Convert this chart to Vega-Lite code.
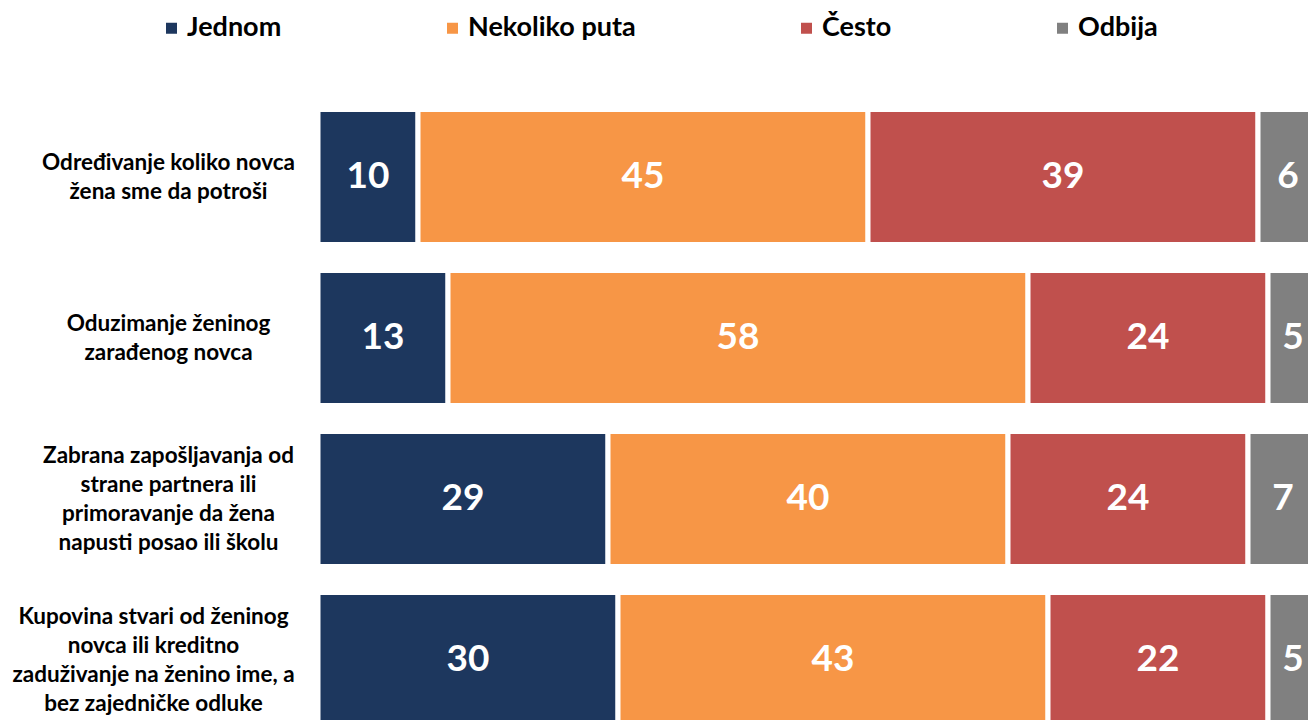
{
  "$schema": "https://vega.github.io/schema/vega-lite/v6.json",
  "autosize": {"type": "none"},
  "padding": {"left": 318, "top": 96.5, "right": 0, "bottom": 0},
  "width": 990,
  "height": 623.5,
  "background": "white",
  "config": {
    "view": {"stroke": null},
    "font": "Lato"
  },
  "data": {
    "values": [
      {"item": "Određivanje koliko novca|žena sme da potroši", "odgovor": "Jednom", "procenat": 10},
      {"item": "Određivanje koliko novca|žena sme da potroši", "odgovor": "Nekoliko puta", "procenat": 45},
      {"item": "Određivanje koliko novca|žena sme da potroši", "odgovor": "Često", "procenat": 39},
      {"item": "Određivanje koliko novca|žena sme da potroši", "odgovor": "Odbija", "procenat": 6},
      {"item": "Oduzimanje ženinog|zarađenog novca", "odgovor": "Jednom", "procenat": 13},
      {"item": "Oduzimanje ženinog|zarađenog novca", "odgovor": "Nekoliko puta", "procenat": 58},
      {"item": "Oduzimanje ženinog|zarađenog novca", "odgovor": "Često", "procenat": 24},
      {"item": "Oduzimanje ženinog|zarađenog novca", "odgovor": "Odbija", "procenat": 5},
      {"item": "Zabrana zapošljavanja od|strane partnera ili|primoravanje da žena|napusti posao ili školu", "odgovor": "Jednom", "procenat": 29},
      {"item": "Zabrana zapošljavanja od|strane partnera ili|primoravanje da žena|napusti posao ili školu", "odgovor": "Nekoliko puta", "procenat": 40},
      {"item": "Zabrana zapošljavanja od|strane partnera ili|primoravanje da žena|napusti posao ili školu", "odgovor": "Često", "procenat": 24},
      {"item": "Zabrana zapošljavanja od|strane partnera ili|primoravanje da žena|napusti posao ili školu", "odgovor": "Odbija", "procenat": 7},
      {"item": "Kupovina stvari od  ženinog|novca ili kreditno|zaduživanje na ženino ime, a|bez zajedničke odluke", "odgovor": "Jednom", "procenat": 30},
      {"item": "Kupovina stvari od  ženinog|novca ili kreditno|zaduživanje na ženino ime, a|bez zajedničke odluke", "odgovor": "Nekoliko puta", "procenat": 43},
      {"item": "Kupovina stvari od  ženinog|novca ili kreditno|zaduživanje na ženino ime, a|bez zajedničke odluke", "odgovor": "Često", "procenat": 22},
      {"item": "Kupovina stvari od  ženinog|novca ili kreditno|zaduživanje na ženino ime, a|bez zajedničke odluke", "odgovor": "Odbija", "procenat": 5}
    ]
  },
  "transform": [
    {"calculate": "indexof(['Jednom', 'Nekoliko puta', 'Često', 'Odbija'], datum.odgovor)", "as": "redosled"}
  ],
  "encoding": {
    "y": {
      "field": "item",
      "type": "nominal",
      "sort": null,
      "title": null,
      "scale": {"range": [0, 644], "paddingInner": 0.16, "paddingOuter": 0.08},
      "axis": {
        "domain": false,
        "ticks": false,
        "labelExpr": "split(datum.label, '|')",
        "labelFont": "Lato",
        "labelFontWeight": "bold",
        "labelFontSize": 22.5,
        "labelColor": "#000000",
        "labelAlign": "center",
        "labelBaseline": "middle",
        "labelLineHeight": 29,
        "labelPadding": {
          "condition": {"test": "indexof(datum.value, 'Kupovina') == 0", "value": 165},
          "value": 150
        },
        "labelLimit": 0,
        "labelOffset": {
          "condition": {"test": "length(datum.value) < 50", "value": -14.5},
          "value": -43.5
        }
      }
    },
    "x": {
      "field": "procenat",
      "type": "quantitative",
      "stack": "zero",
      "scale": {"domain": [0, 100], "range": [0, 1000]},
      "axis": null
    },
    "order": {"field": "redosled", "type": "quantitative"}
  },
  "layer": [
    {
      "mark": {"type": "bar", "stroke": "white", "strokeWidth": 5},
      "encoding": {
        "color": {
          "field": "odgovor",
          "type": "nominal",
          "sort": ["Jednom", "Nekoliko puta", "Često", "Odbija"],
          "scale": {
            "domain": ["Jednom", "Nekoliko puta", "Često", "Odbija"],
            "range": ["#1D375E", "#F79646", "#C0504D", "#808080"]
          },
          "legend": {
            "title": null,
            "orient": "none",
            "direction": "horizontal",
            "legendX": -160,
            "legendY": -82,
            "symbolType": "square",
            "symbolSize": 121,
            "symbolStrokeWidth": 0,
            "labelFont": "Lato",
            "labelFontWeight": "bold",
            "labelFontSize": 27,
            "labelColor": "#000000",
            "labelOffset": 2,
            "labelLimit": 0,
            "columnPadding": 157
          }
        }
      }
    },
    {
      "mark": {
        "type": "text",
        "color": "white",
        "font": "Lato",
        "fontWeight": "bold",
        "fontSize": 37,
        "align": "center",
        "baseline": "middle"
      },
      "encoding": {
        "x": {
          "field": "procenat",
          "type": "quantitative",
          "stack": "zero",
          "bandPosition": 0.5
        },
        "detail": {"field": "odgovor", "type": "nominal"},
        "text": {"field": "procenat", "type": "quantitative"}
      }
    }
  ]
}
